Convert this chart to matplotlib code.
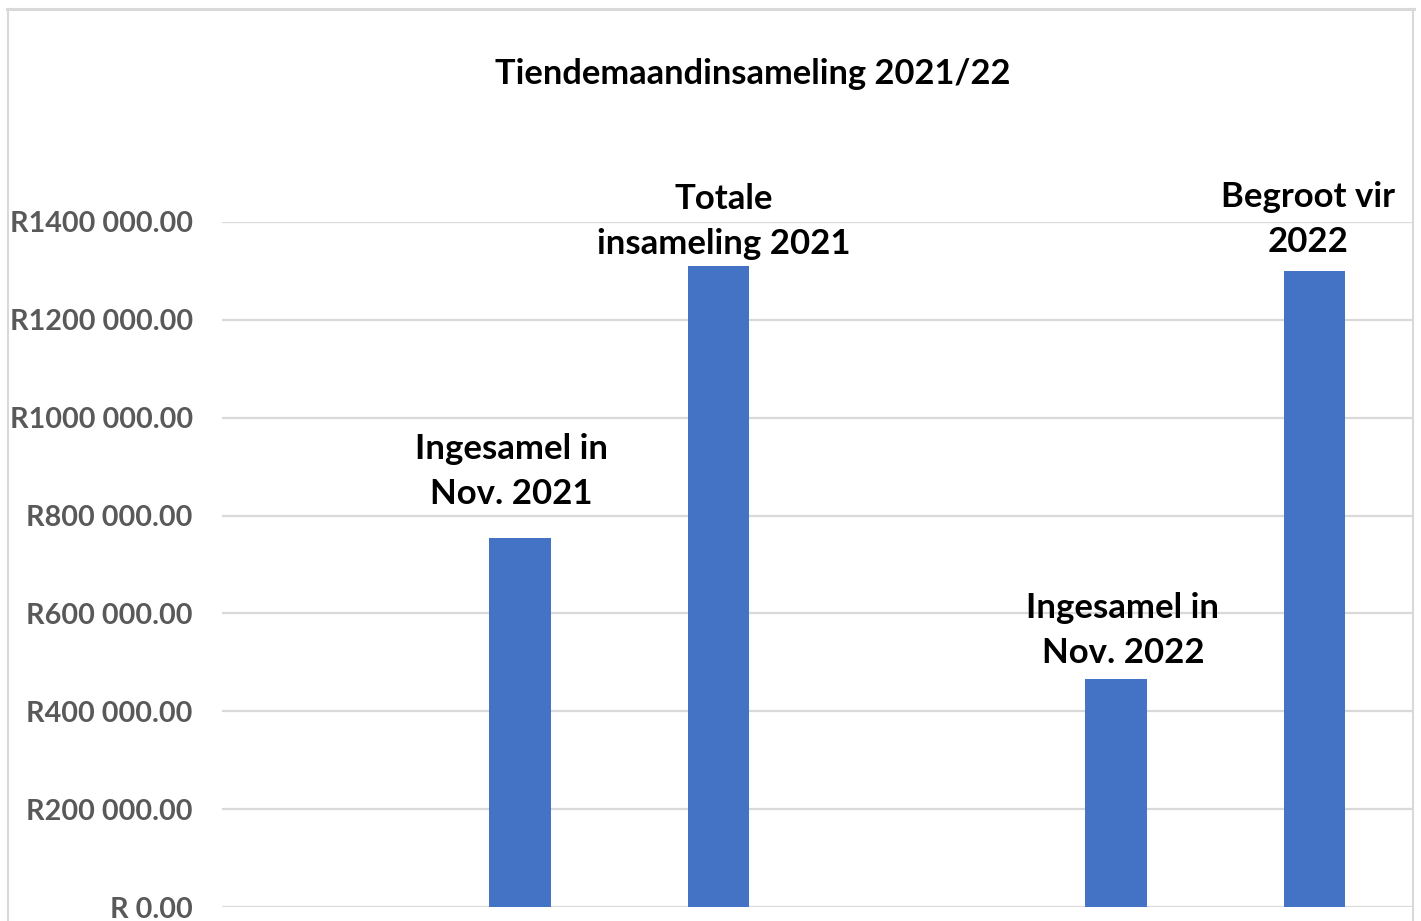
import matplotlib
matplotlib.use("Agg")
import matplotlib.pyplot as plt
from matplotlib.ticker import FuncFormatter
from matplotlib.lines import Line2D

title = "Tiendemaandinsameling 2021/22"
labels = ["Ingesamel in\nNov. 2021", "Totale\ninsameling 2021", "Ingesamel in\nNov. 2022", "Begroot vir\n2022"]
values = [755000, 1310000, 466000, 1300000]
slots = [1.5, 2.5, 4.5, 5.5]
yticks = [0, 200000, 400000, 600000, 800000, 1000000, 1200000, 1400000]

# label offsets (points) as placed in the original chart
label_dx = [-6, 3.5, 5, -5]
label_dy = [20, 4.6, 7.5, 9.6]

plt.rcParams['font.family'] = ['Lato', 'DejaVu Sans']

W, H = 1421, 921
fig = plt.figure(figsize=(W / 100, H / 100), dpi=100)
ax = fig.add_axes([222 / W, 1 - 907 / H, (1414 - 222) / W, (907 - 222) / H])

bar_color = "#4472C4"
ax.bar(slots, values, width=0.31, color=bar_color, zorder=3)

ax.set_xlim(0, 6)
ax.set_ylim(0, 1400000)
ax.set_yticks(yticks)


def fmt(v, pos):
    v = int(round(v))
    if v < 1000:
        return f"R {v:.2f}"
    return f"R{v // 1000} {v % 1000:03d}.00"


ax.yaxis.set_major_formatter(FuncFormatter(fmt))
ax.tick_params(axis='y', length=0, pad=21, labelsize=20.7, labelcolor="#595959")
ax.tick_params(axis='x', length=0, labelbottom=False)
for lab in ax.get_yticklabels():
    lab.set_fontweight('bold')
ax.grid(axis='y', color="#d9d9d9", linewidth=1.6, zorder=0)
for s in ax.spines.values():
    s.set_visible(False)

for x, v, lab, dx, dy in zip(slots, values, labels, label_dx, label_dy):
    ax.annotate(lab, xy=(x, v), xytext=(dx, dy), textcoords='offset points',
                ha='center', va='bottom', fontsize=25, fontweight='bold',
                color="#000000", linespacing=1.5, annotation_clip=False, zorder=4)

fig.text(753 / W, 1 - 74 / H, title, ha='center', va='center', fontsize=24.8,
         fontweight='bold', color="#000000")

# chart frame
fc = "#d9d9d9"
fig.add_artist(Line2D([7 / W, 1414 / W], [1 - 9 / H, 1 - 9 / H], transform=fig.transFigure, color=fc, lw=2.2))
fig.add_artist(Line2D([8 / W, 8 / W], [0, 1 - 9 / H], transform=fig.transFigure, color=fc, lw=1.5))
fig.add_artist(Line2D([1413 / W, 1413 / W], [0, 1 - 9 / H], transform=fig.transFigure, color=fc, lw=1.5))

fig.savefig("out.png", dpi=100, facecolor="white")
